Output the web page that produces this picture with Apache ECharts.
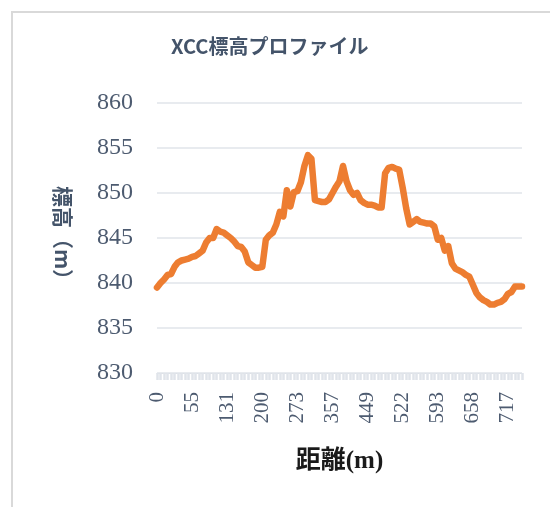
<!DOCTYPE html>
<html>
<head>
<meta charset="utf-8">
<script src="https://cdn.jsdelivr.net/npm/echarts@6/dist/echarts.min.js"></script>
<style>
  html, body { margin: 0; padding: 0; background: #fff; }
  #chart { width: 550px; height: 507px; }
</style>
</head>
<body>
<div id="chart"></div>
<script>
// 距離(m) - カテゴリ
var distances = [
  0, 5, 11, 16, 22, 27, 33, 38, 44, 49,
  55, 63, 70, 78, 85, 93, 101, 108, 116, 123,
  131, 138, 145, 152, 159, 166, 172, 179, 186, 193,
  200, 207, 215, 222, 229, 237, 244, 251, 258, 266,
  273, 281, 290, 298, 307, 315, 323, 332, 340, 349,
  357, 366, 375, 385, 394, 403, 412, 421, 431, 440,
  449, 456, 464, 471, 478, 486, 493, 500, 507, 515,
  522, 529, 536, 543, 550, 558, 565, 572, 579, 586,
  593, 600, 606, 613, 619, 626, 632, 639, 645, 652,
  658, 664, 670, 676, 682, 688, 693, 699, 705, 711,
  717, 723, 729, 735, 741
];
// 標高(m)
var elevations = [
  839.5, 840.0, 840.4, 840.9, 841.0, 841.8, 842.3, 842.5, 842.6, 842.7,
  842.9, 843.0, 843.3, 843.6, 844.5, 845.0, 845.0, 846.0, 845.7, 845.6,
  845.3, 845.0, 844.6, 844.1, 844.0, 843.5, 842.3, 842.0, 841.7, 841.7,
  841.8, 844.8, 845.3, 845.6, 846.5, 847.9, 847.4, 850.3, 848.5, 850.1,
  850.2, 851.2, 853.0, 854.2, 853.8, 849.2, 849.1, 849.0, 849.0, 849.3,
  850.0, 850.7, 851.3, 853.0, 851.3, 850.3, 849.8, 850.0, 849.2, 848.9,
  848.7, 848.7, 848.6, 848.4, 848.4, 852.2, 852.8, 852.9, 852.7, 852.6,
  850.6, 848.3, 846.5, 846.8, 847.1, 846.8, 846.7, 846.6, 846.6, 846.3,
  844.8, 845.0, 843.6, 844.1, 842.2, 841.6, 841.4, 841.2, 840.9, 840.7,
  839.8, 838.9, 838.4, 838.1, 837.9, 837.6, 837.6, 837.8, 837.9, 838.2,
  838.8, 839.0, 839.6, 839.6, 839.6
];

var labelColor = "#4d5b70";
var myChart = echarts.init(document.getElementById("chart"), null, { renderer: "canvas" });

var option = {
  backgroundColor: "#fff",
  animation: false,
  graphic: [{
    type: "rect",
    shape: { x: 12, y: 12, width: 620, height: 620 },
    style: { fill: "none", stroke: "#d9d9d9", lineWidth: 2 },
    silent: true
  }],
  title: {
    text: "XCC標高プロファイル",
    left: 166,
    top: 31,
    textStyle: {
      fontFamily: "Noto Sans CJK JP",
      fontSize: 20,
      fontWeight: "bold",
      color: "#44546a"
    }
  },
  grid: {
    left: 157,
    right: 28,
    top: 103,
    bottom: 134,
    containLabel: false
  },
  xAxis: {
    type: "category",
    boundaryGap: false,
    data: distances,
    name: "距離(m)",
    nameLocation: "middle",
    nameGap: 76,
    nameTextStyle: {
      fontFamily: "Liberation Serif, Noto Sans CJK JP",
      fontSize: 25,
      fontWeight: "bold",
      color: "#1a1a1a"
    },
    axisLine: { show: true, lineStyle: { color: "#dde1e7", width: 1 } },
    axisTick: { show: true, interval: 0, length: 7, lineStyle: { color: "#e0e4ea", width: 2.5 } },
    axisLabel: {
      interval: 9,
      rotate: 90,
      margin: 19,
      fontFamily: "Liberation Serif",
      fontSize: 21,
      color: labelColor
    }
  },
  yAxis: {
    type: "value",
    min: 830,
    max: 860,
    interval: 5,
    name: "標高（m）",
    nameLocation: "middle",
    nameRotate: -90,
    nameGap: 84,
    nameTextStyle: {
      fontFamily: "Noto Sans CJK JP",
      fontSize: 21,
      fontWeight: "bold",
      color: "#44546a"
    },
    axisLine: { show: false },
    axisTick: { show: false },
    splitLine: { show: true, lineStyle: { color: "#e1e5ea", width: 1.5 } },
    axisLabel: {
      margin: 24,
      fontFamily: "Liberation Serif",
      fontSize: 24,
      color: labelColor
    }
  },
  series: [{
    name: "標高",
    type: "line",
    data: elevations,
    symbol: "none",
    lineStyle: { color: "#ed7d31", width: 6.5, join: "round", cap: "round" }
  }]
};

myChart.setOption(option);
</script>
</body>
</html>
